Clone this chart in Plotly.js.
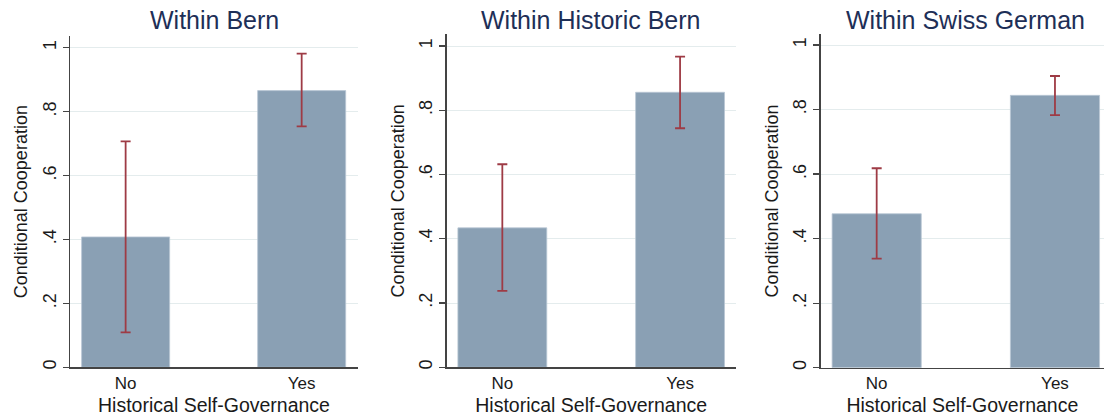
<!DOCTYPE html>
<html>
<head>
<meta charset="utf-8">
<script src="https://cdn.plot.ly/plotly-3.0.1.min.js"></script>
<style>html,body{margin:0;padding:0;background:#fff;}#chart{width:1104px;height:419px;}</style>
</head>
<body>
<div id="chart"></div>
<script>
// ---- data ----
const panelTitles = ["Within Bern", "Within Historic Bern", "Within Swiss German"];
const categories = ["No", "Yes"];
const meansBern = [0.408, 0.866];
const lowBern = [0.109, 0.754];
const highBern = [0.707, 0.982];
const meansHistoric = [0.434, 0.856];
const lowHistoric = [0.238, 0.744];
const highHistoric = [0.632, 0.967];
const meansSwiss = [0.477, 0.844];
const lowSwiss = [0.338, 0.783];
const highSwiss = [0.618, 0.904];
const yTickVals = [0, 0.2, 0.4, 0.6, 0.8, 1];
const yTickText = ["0", ".2", ".4", ".6", ".8", "1"];
const xTitleText = "Historical Self-Governance";
const yTitleText = "Conditional Cooperation";

// ---- layout geometry (pixels) ----
const W = 1104, H = 419;
const FONT = "Arial, 'Liberation Sans', Helvetica, sans-serif";
const barColor = "#8aa0b4";
const errColor = "#9e3b45";

const panels = [
  {m: meansBern, lo: lowBern, hi: highBern, x0: 70, x1: 358, yb: 367.3, yt: 36, y1: 47.8, xr: [-0.316, 1.32], full: 358},
  {m: meansHistoric, lo: lowHistoric, hi: highHistoric, x0: 446.7, x1: 735.7, yb: 367.3, yt: 34.3, y1: 46, xr: [-0.313, 1.313], full: 735.7},
  {m: meansSwiss, lo: lowSwiss, hi: highSwiss, x0: 820.7, x1: 1104, yb: 367.7, yt: 34.3, y1: 45, xr: [-0.314, 1.275], full: 1111}
];

const data = [];
const layout = {
  width: W, height: H,
  margin: {l: 0, r: 0, t: 0, b: 0},
  paper_bgcolor: "#fff", plot_bgcolor: "#fff",
  showlegend: false,
  font: {family: FONT, color: "#222"},
  annotations: []
};

panels.forEach((p, i) => {
  const sfx = i === 0 ? "" : String(i + 1);
  data.push({
    type: "bar",
    x: [0, 1],
    y: p.m,
    width: 0.5,
    xaxis: "x" + sfx, yaxis: "y" + sfx,
    marker: {color: barColor, line: {color: "#b9c7d4", width: 0.8}},
    error_y: {
      type: "data", symmetric: false,
      array: p.hi.map((h, k) => h - p.m[k]),
      arrayminus: p.lo.map((l, k) => p.m[k] - l),
      color: errColor, thickness: 1.8, width: 5
    },
    hoverinfo: "none"
  });
  layout["xaxis" + sfx] = {
    domain: [p.x0 / W, p.x1 / W],
    anchor: "y" + sfx,
    range: p.xr,
    tickvals: [0, 1], ticktext: categories,
    showgrid: false, zeroline: false,
    showline: true, linecolor: "#444", linewidth: 1.3,
    ticks: "", tickfont: {size: 17, color: "#1a1a1a", family: FONT},
    title: {text: xTitleText, font: {size: 19.5, color: "#1a1a1a", family: FONT}, standoff: 6},
    fixedrange: true
  };
  const yTopVal = (p.yb - p.yt) / (p.yb - p.y1);
  layout["yaxis" + sfx] = {
    domain: [1 - p.yb / H, 1 - p.yt / H],
    anchor: "x" + sfx,
    range: [0, yTopVal],
    tickvals: yTickVals, ticktext: yTickText,
    tickangle: -90,
    showgrid: true, gridcolor: "#e4eced", gridwidth: 1,
    zeroline: false,
    showline: true, linecolor: "#444", linewidth: 1.3,
    ticks: "outside", ticklen: 6, tickcolor: "#444", tickwidth: 1.2,
    tickfont: {size: 18, color: "#1a1a1a", family: FONT},
    title: {text: yTitleText, font: {size: 18, color: "#1a1a1a", family: FONT}, standoff: 7},
    fixedrange: true
  };
  layout.annotations.push({
    text: panelTitles[i], xref: "paper", yref: "paper",
    x: ((p.x0 + p.full) / 2) / W, y: 1 - 20 / H,
    xanchor: "center", yanchor: "middle", showarrow: false,
    font: {size: 25, color: "#1e2f57", family: FONT}
  });
});

Plotly.newPlot("chart", data, layout, {displayModeBar: false, staticPlot: true});
</script>
</body>
</html>
